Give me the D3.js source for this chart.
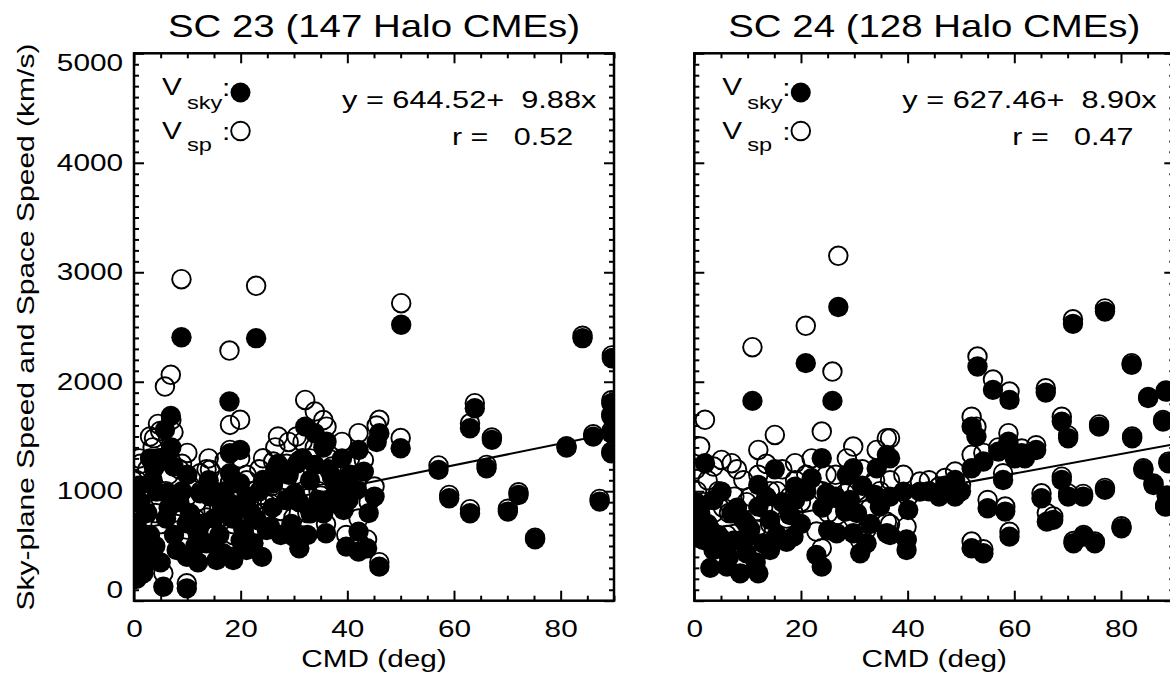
<!DOCTYPE html>
<html><head><meta charset="utf-8">
<script src="https://cdn.jsdelivr.net/npm/d3@7"></script>
<style>
html,body{margin:0;padding:0;background:#fff;overflow:hidden;}
svg{display:block;font-family:"Liberation Sans",Arial,Helvetica,sans-serif;}
</style></head><body>
<svg id="chart" width="1170" height="679"></svg>
<script>
// ---------------- DATA ----------------
const titles = ["SC 23 (147 Halo CMEs)", "SC 24 (128 Halo CMEs)"];
const fitA = [644.52, 627.46];
const fitB = [9.88, 8.90];
const fitR = [0.52, 0.47];
const xTickValues = [0, 20, 40, 60, 80];
const yTickValues = [0, 1000, 2000, 3000, 4000, 5000];

const cmd23 = [8.9,22.9,17.9,50.1,84.1,89.6,63.9,63.0,67.1,81.1,86.1,89.5,89.5,89.5,89.5,57.1,66.1,59.1,63.0,72.1,70.1,75.2,87.3,46.0,46.0,50.0,42.1,43.1,45.1,42.1,39.8,42.1,43.7,36.0,31.0,32.1,33.9,36.1,31.6,33.9,37.1,38.6,38.0,39.3,33.1,35.5,30.2,34.6,41.8,40.2,29.9,28.6,35.0,
 6.9,5.8,4.5,7.4,3.75,4.9,18.0,19.9,18.0,24.2,26.1,12.4,14.25,19.3,21.1,25.5,23.0,14.9,16.7,18.6,21.1,8.0,9.9,1.75,5.5,9.9,1.75,4.25,6.1,9.9,11.75,13.6,15.5,18.6,22.4,24.9,13.6,18.0,21.1,19.9,28.6,
 0.5,0.8,1.2,0.3,2.5,3.0,2.0,6.5,7.5,5.0,8.5,10.5,11.5,12.5,16.0,17.0,20.5,22.0,23.5,26.0,27.5,29.0,30.5,33.0,35.5,37.5,40.5,44.0,31.0,27.0,1.0,3.5,2.5,0.5,4.0,6.0,9.0,10.0,15.0,16.5,20.0,24.0,18.5,12.0,14.0,26.5,29.5,32.5,36.5,39.0,45.5,3.0,7.0];
const vsky23 = [2407,2398,1819,2520,2398,2215,1758,1575,1469,1398,1499,1804,1682,1530,1347,1195,1210,936,799,966,814,561,905,311,1530,1393,1377,1179,951,631,494,448,479,616,479,1590,1530,1453,1301,1240,1133,1042,890,829,799,799,982,920,1012,920,585,920,829,
 1688,1560,1300,1225,1210,1301,1347,1377,1164,1103,1073,982,951,859,920,676,738,525,433,402,463,463,402,281,128,113,250,996,982,707,646,525,372,372,525,646,982,890,951,1073,920,
 700,550,900,400,800,600,450,850,600,350,900,800,500,700,600,1000,650,800,1000,850,600,1150,1250,1100,1400,950,1150,800,900,1250,1050,1100,350,200,500,750,1000,1150,750,850,550,400,750,350,1100,1200,700,600,1200,1300,1450,1300,1400];
const vsp23 = [2937,2876,2285,2718,2420,2240,1804,1620,1490,1410,1520,1830,1700,1550,1360,1236,1240,966,836,990,840,575,930,352,1652,1485,1530,1286,1042,750,600,539,560,700,600,1834,1728,1590,1450,1400,1225,1150,1000,950,950,980,1150,1000,1100,1010,760,1100,960,
 2063,1956,1615,1539,1484,1550,1606,1652,1377,1301,1271,1164,1195,1073,1100,890,920,829,768,700,780,700,650,450,250,159,400,1250,1300,950,900,760,620,600,820,880,1200,1080,1150,1300,1250,
 1100,900,1250,700,1200,1000,850,1150,900,700,1200,1050,750,1000,850,1280,880,1000,1200,1050,820,1450,1500,1300,1650,1100,1300,900,1280,1500,1300,1400,600,450,800,1000,1250,1350,1000,1100,800,650,1000,600,1300,1400,950,800,1300,1450,1600,1500,1650];

const cmd24 = [27.0,10.9,20.9,25.9,23.9,2.0,15.1,12.0,18.9,22.0,29.8,34.2,36.1,28.6,24.8,29.2,28.3,33.9,34.8,5.1,3.6,7.0,9.2,12.0,14.2,17.9,18.9,1.1,0.5,1.7,5.4,3.6,6.1,9.8,12.9,9.8,8.6,12.0,14.2,17.3,18.6,22.9,23.9,25.1,26.7,29.8,31.1,32.3,36.1,71.0,
 77.0,82.0,53.1,56.0,59.1,65.9,85.1,88.4,87.9,75.9,68.9,70.1,82.1,52.0,52.9,52.0,54.2,57.0,58.9,60.1,61.4,64.1,57.9,48.9,48.9,45.9,42.3,36.7,36.7,39.2,40.1,39.8,39.8,36.7,55.0,58.3,59.1,52.0,54.2,65.1,
 68.9,70.1,72.9,77.0,80.1,66.1,67.3,71.1,73.0,75.1,84.2,86.1,88.6,88.9,88.3,44.0,47.0,50.0,62.0,0.3,2.5,4.5,6.5,8.0,10.5,11.5,13.5,15.5,16.5,20.0,21.0,24.0,26.5,30.5,31.5,33.0,3.0,7.5];
const vsky24 = [2682,1825,2170,1825,1301,1256,1201,1057,1042,1119,1210,1210,1332,1149,982,920,814,966,859,996,920,799,738,859,738,783,920,799,646,554,554,463,311,585,525,433,250,250,463,539,585,418,311,646,616,616,433,525,616,2529,
 2641,2154,2139,1926,1834,1901,1850,1910,1636,1590,1636,1484,1484,1590,1499,1210,1271,1362,1453,1301,1347,1377,1103,1103,951,951,996,1301,951,996,829,554,463,600,844,814,585,479,433,936,
 1103,951,951,1012,662,722,738,525,585,525,1195,1057,951,1256,859,1000,1050,1000,1300,900,700,600,400,850,650,350,950,600,900,700,1000,850,950,800,1050,700,300,550];
const vsp24 = [3150,2316,2511,2093,1545,1652,1514,1377,1256,1300,1408,1377,1484,1300,1150,1050,980,1100,1000,1286,1225,1256,1100,1150,1000,950,1100,1408,1000,900,850,800,600,900,850,700,500,450,700,750,800,631,479,800,780,750,550,650,720,2570,
 2670,2170,2230,2020,1910,1940,1860,1920,1650,1610,1680,1510,1500,1680,1590,1332,1350,1400,1530,1350,1390,1420,1164,1179,1020,1042,1088,1484,1100,1150,950,676,560,700,920,860,630,540,470,981,
 1133,980,975,1030,680,800,770,545,600,540,1210,1070,960,1270,870,1100,1120,1060,1330,1200,1100,1000,800,1200,950,650,1250,1000,1200,900,1150,1000,1150,1000,1200,850,650,950];

// ---------------- LAYOUT ----------------
const SX = 1.24;               // horizontal glyph stretch of the original fonts
const PW = 480;                // panel width in px
const TOP = 53.3, BOTTOM = 600.7;
const FONT = 24;
const svg = d3.select("#chart");

const y = d3.scaleLinear().domain([0, 5000]).range([BOTTOM, TOP]);

function stext(g, x, yy, str, size, anchor, sx) {
  return g.append("text")
    .attr("transform", `translate(${x},${yy}) scale(${sx || SX},1)`)
    .attr("text-anchor", anchor || "start")
    .attr("font-size", size)
    .style("white-space", "pre")
    .text(str);
}

const panels = [
  {x0: 134,   cmd: cmd23, sky: vsky23, sp: vsp23, ylabels: true},
  {x0: 694.3, cmd: cmd24, sky: vsky24, sp: vsp24, ylabels: false}
];

const xMinor = d3.range(0, 91, 5).filter(v => v % 20 !== 0);
const yMinor = d3.range(0, 5001, 100).filter(v => v % 1000 !== 0);

panels.forEach((p, i) => {
  const x = d3.scaleLinear().domain([0, 90]).range([p.x0, p.x0 + PW]);
  const g = svg.append("g");

  svg.append("clipPath").attr("id", "clip" + i)
    .append("rect").attr("x", p.x0).attr("y", TOP).attr("width", PW).attr("height", BOTTOM - TOP);

  const pts = g.append("g").attr("clip-path", `url(#clip${i})`);
  const idx = d3.range(p.cmd.length);

  pts.selectAll("circle.sp").data(idx).join("circle").attr("class", "sp")
    .attr("cx", d => x(p.cmd[d])).attr("cy", d => y(p.sp[d]))
    .attr("r", 9.3).attr("fill", "none").attr("stroke", "#000").attr("stroke-width", 1.9);
  pts.selectAll("circle.sky").data(idx).join("circle").attr("class", "sky")
    .attr("cx", d => x(p.cmd[d])).attr("cy", d => y(p.sky[d]))
    .attr("r", 10.2).attr("fill", "#000");

  pts.append("line")
    .attr("x1", x(0)).attr("y1", y(fitA[i]))
    .attr("x2", x(90)).attr("y2", y(fitA[i] + fitB[i] * 90))
    .attr("stroke", "#000").attr("stroke-width", 2);

  function styleAxis(sel) {
    sel.select(".domain").remove();
    sel.selectAll("line").attr("stroke-width", 2);
    sel.attr("font-size", FONT).attr("font-family", null);
  }
  const bottomMajor = g.append("g").attr("transform", `translate(0,${BOTTOM})`)
    .call(d3.axisBottom(x).tickValues(xTickValues).tickSizeInner(-10).tickSizeOuter(0)
      .tickPadding(19).tickFormat(d3.format("d")));
  styleAxis(bottomMajor);
  bottomMajor.selectAll("text").attr("transform", `scale(${SX},1)`);

  const bottomMinor = g.append("g").attr("transform", `translate(0,${BOTTOM})`)
    .call(d3.axisBottom(x).tickValues(xMinor).tickSizeInner(-5).tickSizeOuter(0).tickFormat(""));
  styleAxis(bottomMinor);

  const topMajor = g.append("g").attr("transform", `translate(0,${TOP})`)
    .call(d3.axisTop(x).tickValues(xTickValues).tickSizeInner(-10).tickSizeOuter(0).tickFormat(""));
  styleAxis(topMajor);
  const topMinor = g.append("g").attr("transform", `translate(0,${TOP})`)
    .call(d3.axisTop(x).tickValues(xMinor).tickSizeInner(-5).tickSizeOuter(0).tickFormat(""));
  styleAxis(topMinor);

  const leftMajor = g.append("g").attr("transform", `translate(${p.x0},0)`)
    .call(d3.axisLeft(y).tickValues(yTickValues).tickSizeInner(-10).tickSizeOuter(0)
      .tickPadding(11).tickFormat(p.ylabels ? d3.format("d") : ""));
  styleAxis(leftMajor);
  leftMajor.selectAll("text")
    .attr("x", -11 / SX)
    .attr("y", d => d === 5000 ? 9.5 : (d === 0 ? -10.5 : 0))
    .attr("transform", `scale(${SX},1)`);
  const leftMinor = g.append("g").attr("transform", `translate(${p.x0},0)`)
    .call(d3.axisLeft(y).tickValues(yMinor).tickSizeInner(-5).tickSizeOuter(0).tickFormat(""));
  styleAxis(leftMinor);

  const rightMajor = g.append("g").attr("transform", `translate(${p.x0 + PW},0)`)
    .call(d3.axisRight(y).tickValues(yTickValues).tickSizeInner(-10).tickSizeOuter(0).tickFormat(""));
  styleAxis(rightMajor);
  const rightMinor = g.append("g").attr("transform", `translate(${p.x0 + PW},0)`)
    .call(d3.axisRight(y).tickValues(yMinor).tickSizeInner(-5).tickSizeOuter(0).tickFormat(""));
  styleAxis(rightMinor);

  g.append("rect").attr("x", p.x0).attr("y", TOP).attr("width", PW).attr("height", BOTTOM - TOP)
    .attr("fill", "none").attr("stroke", "#000").attr("stroke-width", 2.5);

  stext(g, p.x0 + PW / 2, 37, titles[i], 31, "middle");
  stext(g, p.x0 + PW / 2, 667, "CMD (deg)", FONT, "middle");

  // legend
  stext(g, p.x0 + 28, 95, "V", FONT);
  stext(g, p.x0 + 53, 109, "sky", 19);
  stext(g, p.x0 + 88, 96, ":", FONT);
  g.append("circle").attr("cx", p.x0 + 106.5).attr("cy", 92.5).attr("r", 10).attr("fill", "#000");
  stext(g, p.x0 + 28, 139, "V", FONT);
  stext(g, p.x0 + 53, 151, "sp", 19);
  stext(g, p.x0 + 88, 140, ":", FONT);
  g.append("circle").attr("cx", p.x0 + 106.5).attr("cy", 131).attr("r", 9.3)
    .attr("fill", "none").attr("stroke", "#000").attr("stroke-width", 1.9);

  stext(g, p.x0 + 208, 108, `y = ${fitA[i].toFixed(2)}+  ${fitB[i].toFixed(2)}x`, FONT, "start", 1.28);
  stext(g, p.x0 + 318, 145, `r =   ${fitR[i].toFixed(2)}`, FONT, "start", 1.27);
});

svg.append("text")
  .attr("transform", `translate(34,327) rotate(-90) scale(1.25,1)`)
  .attr("text-anchor", "middle").attr("font-size", FONT)
  .text("Sky-plane Speed and Space Speed (km/s)");
</script>
</body></html>
